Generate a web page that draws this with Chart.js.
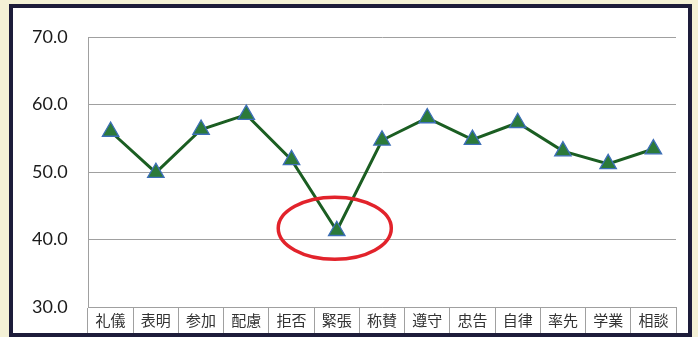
<!DOCTYPE html>
<html>
<head>
  <title>Category Scores</title>
  <script src="https://cdn.jsdelivr.net/npm/chart.js"></script>
  <style>
    body {
      margin: 0;
      background: #f4f1d6;
    }
    #box {
      position: absolute;
      left: 9px;
      top: 4px;
      width: 675px;
      height: 325px;
      border: 4px solid #1d1c3a;
      background: #fff;
    }
    canvas {
      display: block;
    }
  </style>
</head>
<body>
  <div id="box">
    <canvas id="chart" width="675" height="325"></canvas>
  </div>

  <script>
    const categories = ['礼儀', '表明', '参加', '配慮', '拒否', '緊張', '称賛', '遵守', '忠告', '自律', '率先', '学業', '相談'];
    const scores = [56.0, 49.9, 56.3, 58.5, 51.8, 41.3, 54.7, 58.0, 54.8, 57.3, 53.1, 51.2, 53.4];
    const yTicks = [30, 40, 50, 60, 70];
    const circled = '緊張';

    // red ring round the lowest point
    const ringPlugin = {
      id: 'ring',
      afterDatasetsDraw(chart) {
        const x = chart.scales.x, y = chart.scales.y;
        const i = categories.indexOf(circled);
        const cx = x.getPixelForValue(i) - 2;
        const cy = y.getPixelForValue(scores[i]) - 2.5;
        const rx = (x.getPixelForValue(1) - x.getPixelForValue(0)) * 1.25;
        const ry = Math.abs(y.getPixelForValue(0) - y.getPixelForValue(4.6));
        const ctx = chart.ctx;
        ctx.save();
        ctx.beginPath();
        ctx.ellipse(cx, cy, rx, ry, 0, 0, Math.PI * 2);
        ctx.strokeStyle = '#e2232b';
        ctx.lineWidth = 3.5;
        ctx.stroke();
        ctx.restore();
      }
    };

    new Chart(document.getElementById('chart'), {
      type: 'line',
      data: {
        labels: categories,
        datasets: [{
          data: scores,
          borderColor: '#1b5e22',
          borderWidth: 3,
          pointStyle: 'triangle',
          pointRadius: 9.5,
          pointBackgroundColor: '#2c7a3a',
          pointBorderColor: '#3d6fb8',
          pointBorderWidth: 1.3,
          tension: 0
        }]
      },
      options: {
        responsive: false,
        animation: false,
        layout: { autoPadding: false, padding: { top: 29, right: 12, left: 19, bottom: 0 } },
        plugins: {
          legend: { display: false },
          tooltip: { enabled: false }
        },
        scales: {
          x: {
            offset: true,
            grid: {
              offset: true,
              drawOnChartArea: false,
              tickLength: 26,
              color: '#a0a0a0'
            },
            border: { color: '#a0a0a0' },
            ticks: {
              padding: -22,
              color: '#333',
              font: { family: '"Noto Sans CJK JP"', size: 15 }
            },
            afterFit(scale) { scale.height = 26; }
          },
          y: {
            min: 30,
            max: 70,
            afterBuildTicks(scale) { scale.ticks = yTicks.map(v => ({ value: v })); },
            grid: { color: '#a0a0a0', drawTicks: false },
            border: { color: '#a0a0a0' },
            ticks: {
              padding: 0,
              crossAlign: 'far',
              color: '#1a1a1a',
              font: { family: 'Lato', size: 18 },
              callback: v => v.toFixed(1)
            },
            afterFit(scale) { scale.width = 56; }
          }
        }
      },
      plugins: [ringPlugin]
    });
  </script>
</body>
</html>
